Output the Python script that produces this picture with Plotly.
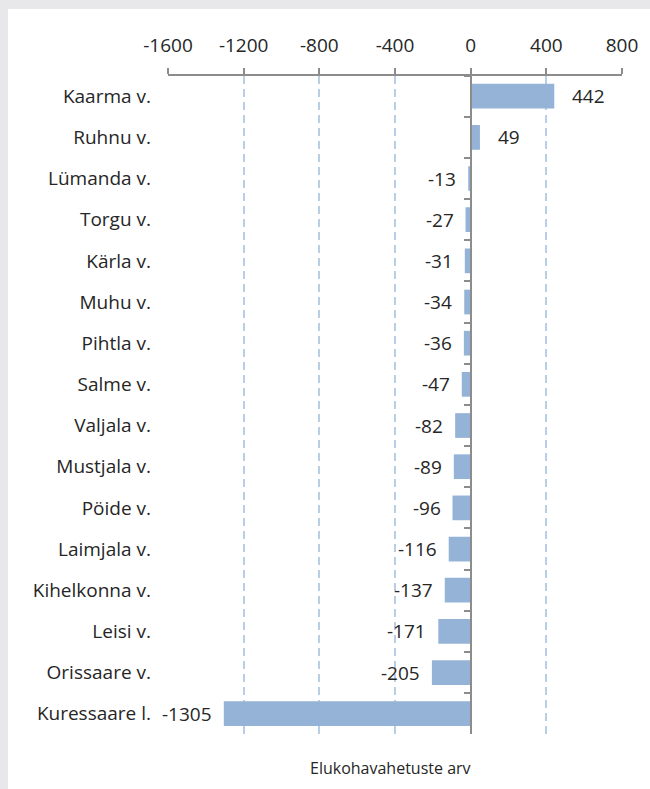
import plotly.graph_objects as go

# Net migration by municipality (Saare county)
municipalities = [
    "Kaarma v.", "Ruhnu v.", "Lümanda v.", "Torgu v.", "Kärla v.", "Muhu v.",
    "Pihtla v.", "Salme v.", "Valjala v.", "Mustjala v.", "Pöide v.",
    "Laimjala v.", "Kihelkonna v.", "Leisi v.", "Orissaare v.", "Kuressaare l.",
]
net_moves = [442, 49, -13, -27, -31, -34, -36, -47, -82, -89, -96,
             -116, -137, -171, -205, -1305]
x_ticks = [-1600, -1200, -800, -400, 0, 400, 800]

W, H = 650, 789
FONT = "Open Sans, Roboto, sans-serif"
TXT = "#262626"
BAR = "#95b3d7"
GRID = "#b9cde5"
AX = "#8c8c8c"

n = len(municipalities)
cat_range = [n - 0.5, -0.5]

fig = go.Figure()
fig.add_trace(go.Bar(
    x=net_moves, y=municipalities, orientation="h",
    marker=dict(color=BAR, line=dict(width=0)),
    width=0.6, hoverinfo="skip",
))
# invisible trace carrying the zero-crossing category axis
fig.add_trace(go.Scatter(
    x=[0] * n, y=municipalities, yaxis="y2", mode="markers",
    marker=dict(opacity=0), hoverinfo="skip", showlegend=False,
))

# value labels just beyond each bar end
for name, v in zip(municipalities, net_moves):
    fig.add_annotation(
        x=v, y=name, text=str(v), showarrow=False,
        xanchor="left" if v > 0 else "right",
        xshift=16 if v > 0 else -10,
        font=dict(family=FONT, size=19, color=TXT),
    )

# axis title below the plot
fig.add_annotation(
    xref="paper", yref="paper", x=390 / W, y=1 - 768 / H,
    text="Elukohavahetuste arv", showarrow=False,
    xanchor="center", yanchor="middle",
    font=dict(family=FONT, size=16, color=TXT),
)

# white panel on grey surround
fig.add_shape(type="rect", xref="paper", yref="paper", layer="below",
              x0=8 / W, x1=1.01, y0=-0.01, y1=1 - 9 / H,
              fillcolor="white", line=dict(width=0))

x_dom = [168 / W, 622 / W]
zero_pos = (168 + (622 - 168) * 4 / 6) / W

fig.update_layout(
    width=W, height=H,
    margin=dict(l=0, r=0, t=0, b=0),
    paper_bgcolor="#e8e8ea", plot_bgcolor="rgba(0,0,0,0)",
    showlegend=False,
    font=dict(family=FONT, size=19, color=TXT),
    xaxis=dict(
        domain=x_dom, side="top", range=[-1600, 800],
        tickvals=x_ticks, ticktext=[str(t) for t in x_ticks],
        showline=True, linecolor=AX, linewidth=1.5,
        ticks="outside", ticklen=6, tickcolor=AX, tickwidth=1.5,
        showgrid=True, gridcolor=GRID, gridwidth=1.5, griddash="8px,5px",
        zeroline=False, automargin=False, ticklabelstandoff=8,
        tickfont=dict(family=FONT, size=19, color=TXT),
    ),
    yaxis=dict(
        domain=[1 - 734.3 / H, 1 - 75.6 / H],
        type="category", categoryorder="array", categoryarray=municipalities,
        range=cat_range, showgrid=False, zeroline=False, showline=False,
        ticks="", automargin=False, ticklabelstandoff=16,
        tickfont=dict(family=FONT, size=19, color=TXT),
    ),
    yaxis2=dict(
        overlaying="y", anchor="free", position=zero_pos, side="left",
        type="category", categoryorder="array", categoryarray=municipalities,
        range=cat_range, showticklabels=False, showgrid=False, zeroline=False,
        showline=True, linecolor=AX, linewidth=1.5,
        ticks="outside", tickson="boundaries", ticklen=6,
        tickcolor=AX, tickwidth=1.5,
    ),
)

fig.write_html("out.html")
